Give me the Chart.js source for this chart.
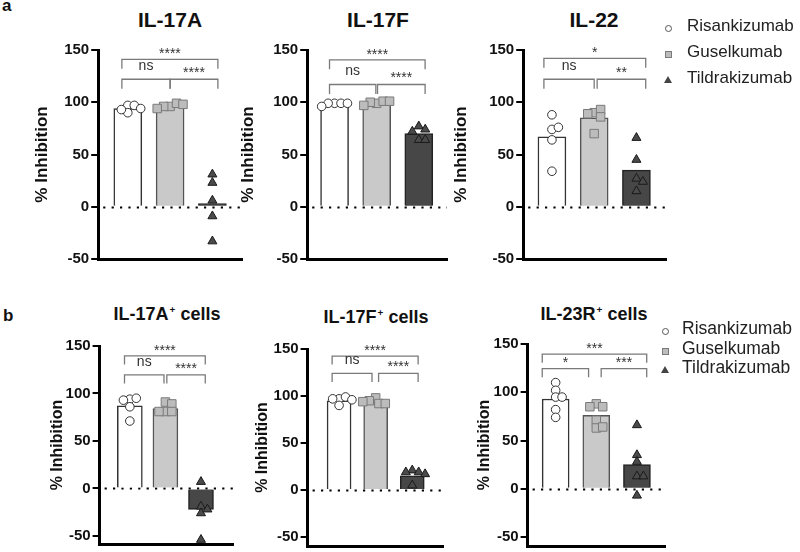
<!DOCTYPE html>
<html>
<head>
<meta charset="utf-8">
<script src="https://cdn.jsdelivr.net/npm/chart.js@4.4.0/dist/chart.umd.min.js"></script>
<style>
  body { margin: 0; width: 800px; height: 552px; position: relative; overflow: hidden; background: #fff;
         font-family: "Liberation Sans", Arial, sans-serif; color: #111; }
  canvas { position: absolute; }
  .ttl { position: absolute; font-weight: bold; line-height: 1; white-space: nowrap; transform: translateX(-50%); }
  .ttl sup { font-size: 0.55em; vertical-align: 0.75em; margin-left: 1px; }
  .tag { position: absolute; font-weight: bold; line-height: 1; font-size: 17px; }
  .leg { position: absolute; font-size: 17px; line-height: 1; color: #222; white-space: nowrap; }
  .mk { position: absolute; box-sizing: border-box; }
</style>
</head>
<body>
<div class="tag" style="left:2px;top:-3px">a</div>
<div class="tag" style="left:3px;top:307px">b</div>
<div class="ttl" style="left:170px;top:9px;font-size:21px">IL-17A</div>
<div class="ttl" style="left:378px;top:9px;font-size:21px">IL-17F</div>
<div class="ttl" style="left:594px;top:9px;font-size:21px">IL-22</div>
<div class="ttl" style="left:167px;top:305px;font-size:18px">IL-17A<sup>+</sup> cells</div>
<div class="ttl" style="left:376px;top:308px;font-size:18px">IL-17F<sup>+</sup> cells</div>
<div class="ttl" style="left:594px;top:305px;font-size:18px">IL-23R<sup>+</sup> cells</div>
<script>
const groups = ['Risankizumab', 'Guselkumab', 'Tildrakizumab'];
const yTicks = [150, 100, 50, 0, -50];

// a: IL-17A
const il17aRis = [97, 97, 90, 93, 94];
const il17aGus = [96, 99, 96, 98, 94];
const il17aTil = [31, 23, 6, -9, -33];
const il17aMean = [94, 96, 3];
const il17aSig = ['****', 'ns', '****'];

// a: IL-17F
const il17fRis = [99, 99, 99, 99, 96];
const il17fGus = [99, 101, 100, 101, 97];
const il17fTil = [77, 74, 72, 64, 64];
const il17fMean = [98, 100, 70];
const il17fSig = ['****', 'ns', '****'];

// a: IL-22
const il22Ris = [88, 74, 76, 64, 34];
const il22Gus = [90, 93, 86, 89, 70];
const il22Til = [66, 45, 27, 24, 15];
const il22Mean = [67, 85, 35];
const il22Sig = ['*', 'ns', '**'];

// b: IL-17A+ cells
const il17aCellRis = [94, 95, 93, 86, 71];
const il17aCellGus = [91, 89, 81, 81, 81];
const il17aCellTil = [7, -19, -26, -22, -54];
const il17aCellMean = [87, 84, -22];
const il17aCellSig = ['****', 'ns', '****'];

// b: IL-17F+ cells
const il17fCellRis = [97, 99, 97, 96, 90];
const il17fCellGus = [98, 92, 95, 92, 94];
const il17fCellTil = [21, 19, 19, 17, 5];
const il17fCellMean = [95, 93, 15];
const il17fCellSig = ['****', 'ns', '****'];

// b: IL-23R+ cells
const il23rCellRis = [110, 102, 95, 95, 82, 74];
const il23rCellGus = [88, 85, 85, 71, 63, 64];
const il23rCellTil = [66, 35, 28, 13, 13, -7];
const il23rCellMean = [93, 76, 25];
const il23rCellSig = ['***', '*', '***'];

const panels = [
  { ris: il17aRis, gus: il17aGus, til: il17aTil, mean: il17aMean, sig: il17aSig,
    axisX: 98, right: 243, top: 50, bottom: 260, yMin: -50, xMin: -0.7, xMax: 2.7, barW: 28, titleOff: 56, titleSize: 17,
    br: { top: 141, low: 122, xl: -0.14, xr: 2.13, m1: 1, m2: 1 } },
  { ris: il17fRis, gus: il17fGus, til: il17fTil, mean: il17fMean, sig: il17fSig,
    axisX: 307, right: 448, top: 50, bottom: 260, yMin: -50, xMin: -0.65, xMax: 2.67, barW: 28, titleOff: 59, titleSize: 17,
    br: { top: 140.5, low: 117, xl: -0.12, xr: 2.15, m1: 0.98, m2: 1.02 } },
  { ris: il22Ris, gus: il22Gus, til: il22Til, mean: il22Mean, sig: il22Sig,
    axisX: 523, right: 667, top: 50, bottom: 260, yMin: -50, xMin: -0.68, xMax: 2.7, barW: 28, titleOff: 62, titleSize: 17,
    br: { top: 142, low: 122, xl: -0.19, xr: 2.22, m1: 1, m2: 1.07 } },
  { ris: il17aCellRis, gus: il17aCellGus, til: il17aCellTil, mean: il17aCellMean, sig: il17aCellSig,
    axisX: 100, right: 235, top: 346, bottom: 545, yMin: -58.5, xMin: -0.85, xMax: 2.9, barW: 25, titleOff: 42, titleSize: 16,
    br: { top: 139.5, low: 119.5, xl: -0.15, xr: 2.12, m1: 0.96, m2: 1.04 } },
  { ris: il17fCellRis, gus: il17fCellGus, til: il17fCellTil, mean: il17fCellMean, sig: il17fCellSig,
    axisX: 308, right: 445, top: 349, bottom: 547, yMin: -59.5, xMin: -0.86, xMax: 2.84, barW: 24, titleOff: 45, titleSize: 16,
    br: { top: 142.5, low: 124, xl: -0.19, xr: 2.16, m1: 0.9, m2: 1.08 } },
  { ris: il23rCellRis, gus: il23rCellGus, til: il23rCellTil, mean: il23rCellMean, sig: il23rCellSig,
    axisX: 528, right: 667, top: 344, bottom: 547, yMin: -59.3, xMin: -0.69, xMax: 2.69, barW: 27, titleOff: 43, titleSize: 16,
    br: { top: 139.5, low: 124.5, xl: -0.33, xr: 2.24, m1: 0.81, m2: 1.12 } }
];

// spread overlapping points sideways like a dot plot (offsets in px)
function swarm(vals, center, pxX, pxY) {
  const placed = [];
  const d = 6.5, step = 3.25;
  return vals.map(v => {
    const py = v * pxY;
    let dx = 0;
    for (let k = 0; k < 30; k++) {
      const c = k === 0 ? 0 : (k % 2 ? 1 : -1) * Math.ceil(k / 2) * step;
      if (placed.every(p => Math.hypot(p.x - c, p.y - py) >= d)) { dx = c; break; }
    }
    placed.push({ x: dx, y: py });
    return { x: center + dx / pxX, y: v };
  });
}

const sigPlugin = {
  id: 'sig',
  beforeDatasetsDraw(chart) {
    const { ctx, chartArea: a, scales: { y } } = chart;
    const y0 = Math.round(y.getPixelForValue(0)) + 0.5;
    ctx.save();
    ctx.strokeStyle = '#000';
    ctx.lineWidth = 2.2;
    ctx.setLineDash([2.2, 6.2]);
    ctx.beginPath();
    ctx.moveTo(a.left + 5, y0);
    ctx.lineTo(a.right, y0);
    ctx.stroke();
    ctx.restore();
  },
  afterDatasetsDraw(chart, args, o) {
    const { ctx, scales: { x, y } } = chart;
    const X = v => x.getPixelForValue(v), Y = v => y.getPixelForValue(v);
    const drop = 9;
    ctx.save();
    ctx.strokeStyle = '#7a7a7a';
    ctx.lineWidth = 1.3;
    const bracket = (x1, x2, yl) => {
      ctx.beginPath();
      ctx.moveTo(X(x1), Y(yl - drop));
      ctx.lineTo(X(x1), Y(yl));
      ctx.lineTo(X(x2), Y(yl));
      ctx.lineTo(X(x2), Y(yl - drop));
      ctx.stroke();
    };
    bracket(o.xl, o.xr, o.top);
    bracket(o.xl, o.m1, o.low);
    bracket(o.m2, o.xr, o.low);
    ctx.fillStyle = '#333';
    ctx.font = '14px "Liberation Sans", Arial, sans-serif';
    ctx.textAlign = 'center';
    ctx.textBaseline = 'alphabetic';
    const lift = s => s === 'ns' ? 9 : 2;
    ctx.fillText(o.labels[0], (X(o.xl) + X(o.xr)) / 2, Y(o.top) - 1);
    ctx.fillText(o.labels[1], (X(o.xl) + X(o.m1)) / 2, Y(o.low) - lift(o.labels[1]));
    ctx.fillText(o.labels[2], (X(o.m2) + X(o.xr)) / 2, Y(o.low) - lift(o.labels[2]));
    ctx.restore();
  }
};

function makeChart(p) {
  const titleLH = p.titleSize * 1.2;
  const scaleW = p.titleOff + titleLH / 2;
  const padTop = 12, padRight = 6, padBottom = 8, xH = 2;
  const areaW = p.right - p.axisX, areaH = p.bottom - p.top;
  const canvas = document.createElement('canvas');
  canvas.width = scaleW + areaW + padRight;
  canvas.height = padTop + areaH + xH + padBottom;
  canvas.style.left = (p.axisX - scaleW) + 'px';
  canvas.style.top = (p.top - padTop) + 'px';
  document.body.appendChild(canvas);

  const pxX = areaW / (p.xMax - p.xMin);
  const pxY = areaH / (150 - p.yMin);

  new Chart(canvas.getContext('2d'), {
    type: 'bar',
    data: {
      datasets: [
        {
          type: 'scatter', label: groups[0], order: 0,
          data: swarm(p.ris, 0, pxX, pxY),
          pointStyle: 'circle', pointRadius: 4.3,
          pointBackgroundColor: '#fff', pointBorderColor: '#333', pointBorderWidth: 1
        },
        {
          type: 'scatter', label: groups[1], order: 0,
          data: swarm(p.gus, 1, pxX, pxY),
          pointStyle: 'rect', pointRadius: 6,
          pointBackgroundColor: '#bcbcbc', pointBorderColor: '#7a7a7a', pointBorderWidth: 1
        },
        {
          type: 'scatter', label: groups[2], order: 0,
          data: swarm(p.til, 2, pxX, pxY),
          pointStyle: 'triangle', pointRadius: 5.2,
          pointBackgroundColor: '#4a4a4a', pointBorderColor: '#1a1a1a', pointBorderWidth: 1
        },
        {
          type: 'bar', label: 'Mean', order: 2,
          data: p.mean.map((v, i) => ({ x: i, y: v })),
          backgroundColor: ['#ffffff', '#c9c9c9', '#474747'],
          borderColor: ['#333', '#555', '#222'],
          borderWidth: 1.5,
          barThickness: p.barW
        }
      ]
    },
    options: {
      responsive: false,
      animation: false,
      events: [],
      layout: { padding: { left: 0, top: padTop, right: padRight, bottom: padBottom } },
      plugins: {
        legend: { display: false },
        tooltip: { enabled: false },
        sig: Object.assign({ labels: p.sig }, p.br)
      },
      scales: {
        x: {
          type: 'linear', min: p.xMin, max: p.xMax, offset: false,
          ticks: { display: false },
          grid: { display: false },
          border: { display: true, color: '#000', width: 3 },
          afterFit: s => { s.height = xH; }
        },
        y: {
          min: p.yMin, max: 150, bounds: 'data',
          afterBuildTicks: s => { s.ticks = yTicks.map(v => ({ value: v })); },
          ticks: {
            color: '#111', padding: 2,
            font: { family: '"Liberation Sans", Arial, sans-serif', size: 15, weight: 'bold' }
          },
          grid: { display: true, drawOnChartArea: false, drawTicks: true, tickLength: 7, color: '#000', lineWidth: 2 },
          border: { display: true, color: '#000', width: 3 },
          title: {
            display: true, text: '% Inhibition', color: '#111', padding: 0,
            font: { family: '"Liberation Sans", Arial, sans-serif', size: p.titleSize, weight: 'bold', lineHeight: 1.2 }
          },
          afterFit: s => { s.width = scaleW; }
        }
      }
    },
    plugins: [sigPlugin]
  });
}

panels.forEach(makeChart);

// legends (next to IL-22 and IL-23R+ cells)
function makeLegend(mx, tx, ys, size) {
  groups.forEach((g, i) => {
    const cy = ys[i];
    const m = document.createElement('div');
    m.className = 'mk';
    if (i === 0) {
      m.style.cssText = `left:${mx - 3.5}px;top:${cy - 3.5}px;width:7px;height:7px;border:1px solid #555;border-radius:50%;background:#fff;`;
    } else if (i === 1) {
      m.style.cssText = `left:${mx - 3.5}px;top:${cy - 3.5}px;width:7px;height:7px;border:1px solid #7a7a7a;background:#bcbcbc;`;
    } else {
      m.style.cssText = `left:${mx - 4}px;top:${cy - 4}px;width:0;height:0;border-left:4px solid transparent;border-right:4px solid transparent;border-bottom:7px solid #444;`;
    }
    document.body.appendChild(m);
    const t = document.createElement('div');
    t.className = 'leg';
    t.style.cssText = `left:${tx}px;top:${cy - size * 0.62}px;font-size:${size}px;`;
    t.textContent = g;
    document.body.appendChild(t);
  });
}
makeLegend(668, 687, [28, 54, 80], 17);
makeLegend(665, 682, [331, 351, 370], 17.5);
</script>
</body>
</html>
